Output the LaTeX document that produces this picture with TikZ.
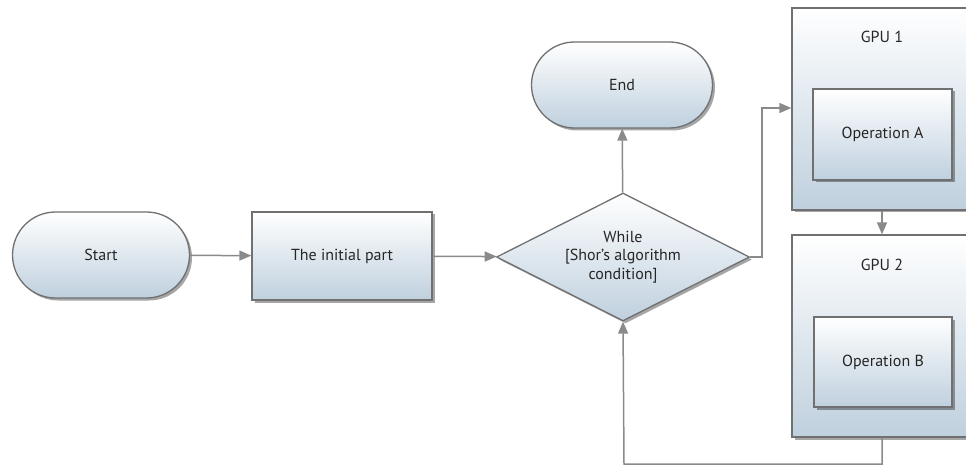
\documentclass[tikz,border=0pt]{standalone}
\usepackage{fontspec}
\setmainfont{PT Sans}
\usetikzlibrary{shapes.geometric,shapes.misc,arrows.meta,shadows}
\definecolor{linegray}{HTML}{8A8A8A}
\definecolor{boxborder}{HTML}{707070}
\definecolor{fillbottom}{HTML}{BFD0DE}
\definecolor{txt}{HTML}{262626}
\tikzset{
  labelfont/.style={font=\fontsize{16}{18.5}\selectfont},
  base/.style={draw=boxborder, line width=1.3pt, top color=white, bottom color=fillbottom,
    text=txt, labelfont, align=center, inner sep=0pt,
    drop shadow={shadow xshift=2.5pt, shadow yshift=-2.5pt, fill=black, opacity=0.35}},
  terminal/.style={base, rounded rectangle, minimum height=86pt},
  process/.style={base, rectangle, minimum width=#1},
  decision/.style={base, diamond, minimum width=253pt, minimum height=128pt, aspect=2},
  caption/.style={text=txt, labelfont, inner sep=0pt},
  conn/.style={draw=linegray, line width=1.5pt, -{Triangle[length=12pt,width=10pt]}},
}
\begin{document}
\begin{tikzpicture}[x=1pt,y=-1pt]
  \useasboundingbox (0,0) rectangle (966,465);
  \clip (0,0) rectangle (966,465);

  % main flow
  \node[terminal, minimum width=177pt] (start) at (101,255) {Start};
  \node[process=180pt, minimum height=88pt] (init) at (342,256) {The initial part};
  \node[decision] (cond) at (623,257) {While\\{}[Shor’s algorithm\\condition]};
  \node[terminal, minimum width=181pt] (end) at (622,85) {End};

  % GPU containers with their operations
  \node[process=180pt, minimum height=202pt] (gpu1) at (882,109) {};
  \node[caption] (gpu1lab) at (882,37) {GPU 1};
  \node[process=139pt, minimum height=91pt] (opA) at (882.5,134.5) {Operation A};

  \node[process=180pt, minimum height=202pt] (gpu2) at (882,336) {};
  \node[caption] (gpu2lab) at (882,265) {GPU 2};
  \node[process=138pt, minimum height=90pt] (opB) at (883,362) {Operation B};

  % routing points
  \coordinate (up) at (762,108);
  \coordinate (loop) at (624,464);

  % connectors
  \draw[conn] (start) -- (init);
  \draw[conn] (init) -- (cond);
  \draw[conn] (cond) -- (end);
  \draw[conn] (cond.east) -| (up) -- (gpu1.west |- up);
  \draw[conn] (gpu1.south) -- (gpu2.north);
  \draw[conn] (gpu2.south) |- (loop) -- (cond.south);
\end{tikzpicture}
\end{document}
